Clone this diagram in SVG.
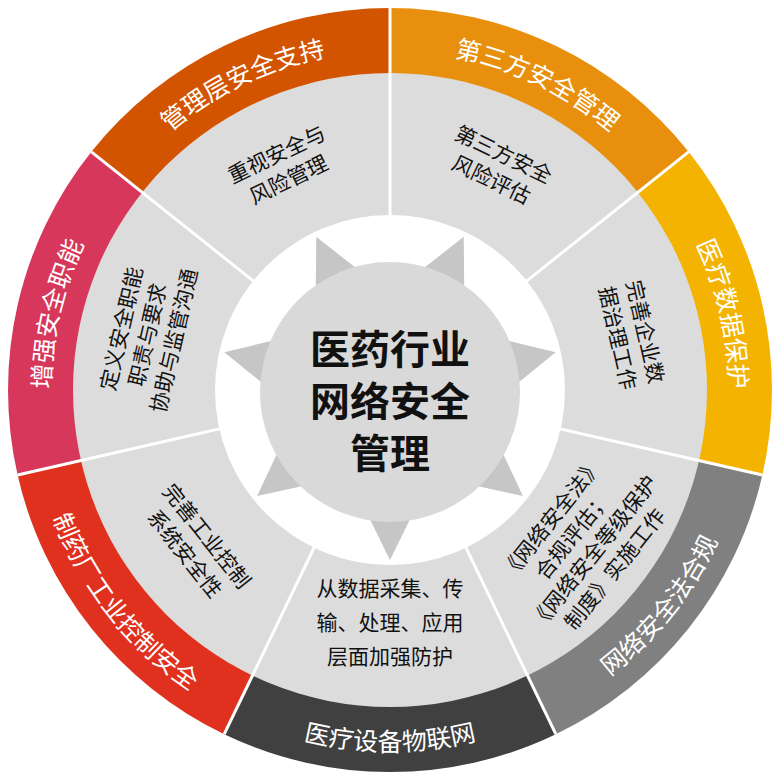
<svg xmlns="http://www.w3.org/2000/svg" width="781" height="777" viewBox="0 0 781 777">
<style>
.outer{font-family:"Noto Sans CJK SC","Noto Sans",sans-serif;font-size:25px;fill:#fff}
.inner{font-family:"Noto Sans CJK SC","Noto Sans",sans-serif;font-size:21px;fill:#111}
.title{font-family:"Noto Sans CJK SC","Noto Sans",sans-serif;font-size:40px;font-weight:bold;fill:#111}
.sep{stroke:#fff;stroke-width:3}
.ray{fill:#c6c6c6}
</style>
<defs>
<path id="a0" d="M390,51 A339,339 0 0 1 655,178.6"/>
<path id="a1" d="M655,178.6 A339,339 0 0 1 720.5,465.4"/>
<path id="a5" d="M59.5,465.4 A339,339 0 0 1 125,178.6"/>
<path id="a6" d="M125,178.6 A339,339 0 0 1 390,51"/>
<path id="a2" d="M546.6,715.3 A361,361 0 0 0 741.9,470.3"/>
<path id="a3" d="M233.4,715.3 A361,361 0 0 0 546.6,715.3"/>
<path id="a4" d="M38.1,470.3 A361,361 0 0 0 233.4,715.3"/>
</defs>
<rect width="781" height="777" fill="#fff"/>
<g id="ring">
<path d="M390,390 L390,8 A382,382 0 0 1 688.6,151.8 Z" fill="#e8900e"/>
<path d="M390,390 L688.6,151.8 A382,382 0 0 1 762.4,475 Z" fill="#f5b301"/>
<path d="M390,390 L762.4,475 A382,382 0 0 1 555.8,734.2 Z" fill="#808080"/>
<path d="M390,390 L555.8,734.2 A382,382 0 0 1 224.2,734.2 Z" fill="#404040"/>
<path d="M390,390 L224.2,734.2 A382,382 0 0 1 17.6,475 Z" fill="#e0301e"/>
<path d="M390,390 L17.6,475 A382,382 0 0 1 91.4,151.8 Z" fill="#d6375a"/>
<path d="M390,390 L91.4,151.8 A382,382 0 0 1 390,8 Z" fill="#d35400"/>
<circle cx="390" cy="390" r="317" fill="#dcdcdc"/>
</g>
<g id="connectors">
<line class="sep" x1="390" y1="390" x2="390" y2="8"/>
<line class="sep" x1="390" y1="390" x2="688.6" y2="151.8"/>
<line class="sep" x1="390" y1="390" x2="762.4" y2="475"/>
<line class="sep" x1="390" y1="390" x2="555.8" y2="734.2"/>
<line class="sep" x1="390" y1="390" x2="224.2" y2="734.2"/>
<line class="sep" x1="390" y1="390" x2="17.6" y2="475"/>
<line class="sep" x1="390" y1="390" x2="91.4" y2="151.8"/>
</g>
<circle cx="390" cy="390" r="175" fill="#fff"/>
<g id="center">
<polygon class="ray" points="390,220 358,285 422,285" transform="rotate(25.71 390 390)"/>
<polygon class="ray" points="390,220 358,285 422,285" transform="rotate(77.14 390 390)"/>
<polygon class="ray" points="390,220 358,285 422,285" transform="rotate(128.57 390 390)"/>
<polygon class="ray" points="390,220 358,285 422,285" transform="rotate(180 390 390)"/>
<polygon class="ray" points="390,220 358,285 422,285" transform="rotate(231.43 390 390)"/>
<polygon class="ray" points="390,220 358,285 422,285" transform="rotate(282.86 390 390)"/>
<polygon class="ray" points="390,220 358,285 422,285" transform="rotate(334.29 390 390)"/>
<circle cx="390" cy="392" r="130" fill="#d9d9d9"/>
<text class="title" text-anchor="middle" x="390" y="364">医药行业</text>
<text class="title" text-anchor="middle" x="390" y="416">网络安全</text>
<text class="title" text-anchor="middle" x="390" y="468">管理</text>
</g>
<g id="n-third">
<text class="outer" text-anchor="middle"><textPath href="#a0" startOffset="50%">第三方安全管理</textPath></text>
<text class="inner" text-anchor="middle" transform="translate(497.6 166.6) rotate(25.71)"><tspan x="0" y="-6">第三方安全</tspan><tspan x="0" y="22">风险评估</tspan></text>
</g>
<g id="n-data">
<text class="outer" text-anchor="middle"><textPath href="#a1" startOffset="50%">医疗数据保护</textPath></text>
<text class="inner" text-anchor="middle" transform="translate(631.8 334.8) rotate(77.14)"><tspan x="0" y="-6">完善企业数</tspan><tspan x="0" y="22">据治理工作</tspan></text>
</g>
<g id="n-law">
<text class="outer" text-anchor="middle"><textPath href="#a2" startOffset="50%">网络安全法合规</textPath></text>
<text class="inner" text-anchor="middle" transform="translate(583.9 544.6) rotate(-51.43)"><tspan x="0" y="-34">《网络安全法》</tspan><tspan x="0" y="-7">合规评估；</tspan><tspan x="0" y="20">《网络安全等级保护</tspan><tspan x="0" y="47">制度》实施工作</tspan></text>
</g>
<g id="n-iot">
<text class="outer" text-anchor="middle"><textPath href="#a3" startOffset="50%">医疗设备物联网</textPath></text>
<text class="inner" text-anchor="middle"><tspan x="390" y="596">从数据采集、传</tspan><tspan x="390" y="630">输、处理、应用</tspan><tspan x="390" y="664">层面加强防护</tspan></text>
</g>
<g id="n-plant">
<text class="outer" text-anchor="middle"><textPath href="#a4" startOffset="50%">制药厂工业控制安全</textPath></text>
<text class="inner" text-anchor="middle" transform="translate(196.1 544.6) rotate(51.43)"><tspan x="0" y="-6">完善工业控制</tspan><tspan x="0" y="22">系统安全性</tspan></text>
</g>
<g id="n-func">
<text class="outer" text-anchor="middle"><textPath href="#a5" startOffset="50%">增强安全职能</textPath></text>
<text class="inner" text-anchor="middle" transform="translate(148.2 334.8) rotate(-77.14)"><tspan x="0" y="-20">定义安全职能</tspan><tspan x="0" y="7">职责与要求</tspan><tspan x="0" y="34">协助与监管沟通</tspan></text>
</g>
<g id="n-mgmt">
<text class="outer" text-anchor="middle"><textPath href="#a6" startOffset="50%">管理层安全支持</textPath></text>
<text class="inner" text-anchor="middle" transform="translate(282.4 166.6) rotate(-25.71)"><tspan x="0" y="-6">重视安全与</tspan><tspan x="0" y="22">风险管理</tspan></text>
</g>
</svg>
